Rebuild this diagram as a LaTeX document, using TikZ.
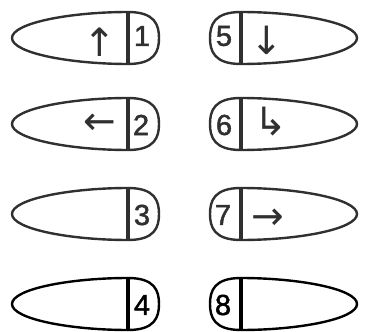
\documentclass[tikz,border=0pt]{standalone}
\usepackage{fontspec}
\setmainfont{Liberation Sans}
\newfontfamily\digfont[FakeBold=1.6]{Liberation Sans}
\newfontfamily\arrfont[FakeBold=0]{DejaVu Sans}
\begin{document}
\begin{tikzpicture}[x=1pt,y=-1pt,
  outl/.style={line width=2.4pt,draw=ink},
  divl/.style={line width=4pt,draw=ink},
  dig/.style={font=\digfont\fontsize{29}{31}\selectfont,text=ink,inner sep=0pt},
  arr/.style={font=\arrfont\fontsize{39}{41}\selectfont,text=ink,inner sep=0pt},
  btn/.pic={
    \draw[outl] (128,-26) .. controls (70,-26) and (12,-15) .. (12,0)
                .. controls (12,15) and (70,26) .. (128,26);
    \draw[outl] (128,-26) .. controls (155,-26) and (159,-13) .. (159,0)
                .. controls (159,13) and (155,26) .. (128,26);
    \draw[divl] (128,-26) -- (128,26);
  }]
\definecolor{ink}{HTML}{303030}
\useasboundingbox (0,0) rectangle (371,331);
% left column
\pic at (0,38) {btn};
\pic at (0,124) {btn};
\pic at (0,214) {btn};
% right column (mirrored)
\pic[xscale=-1] at (369,38) {btn};
\pic[xscale=-1] at (369,124) {btn};
\pic[xscale=-1] at (369,214) {btn};
\colorlet{ink}{black}
\pic at (0,304) {btn};
\pic[xscale=-1] at (369,304) {btn};
\definecolor{ink}{HTML}{303030}
% labels
\node[dig] (n1) at (142,36) {1};
\node[dig] (n2) at (141,125) {2};
\node[dig] (n3) at (142,215) {3};
\node[dig,text=black] (n4) at (142,305) {4};
\node[dig] (n5) at (224,36) {5};
\node[dig] (n6) at (224,125) {6};
\node[dig] (n7) at (223,215) {7};
\node[dig,text=black] (n8) at (223,305) {8};
\node[arr] (a1) at (100,42) {↑};
\node[arr] (a2) at (100,124) {←};
\node[arr] (a5) at (267,40) {↓};
\node[arr] (a6) at (271,122) {↳};
\node[arr] (a7) at (268,219) {→};
\end{tikzpicture}
\end{document}
